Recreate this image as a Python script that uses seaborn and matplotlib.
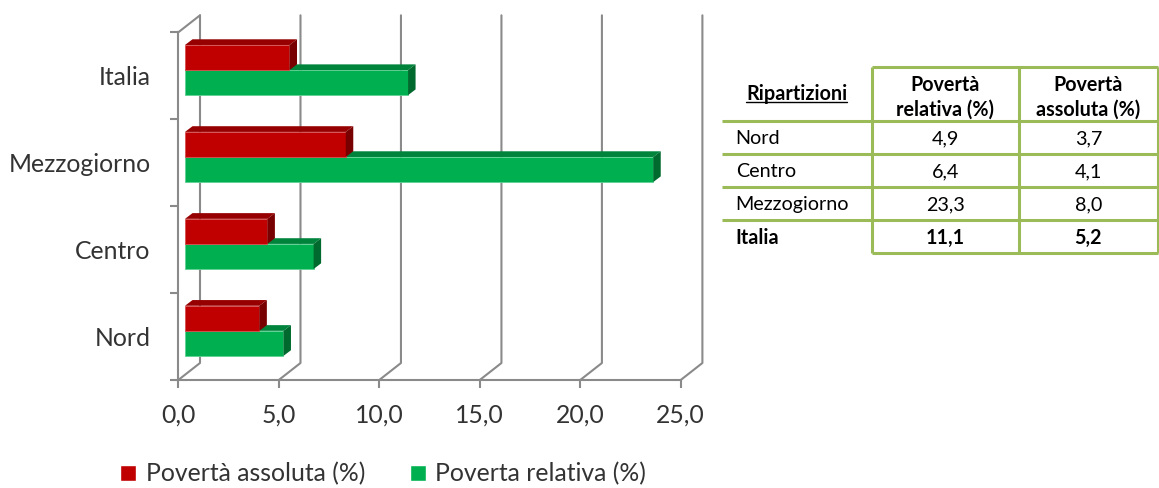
import matplotlib
matplotlib.use("Agg")
import matplotlib.pyplot as plt
import pandas as pd
import seaborn as sns
from matplotlib.lines import Line2D
from matplotlib.patches import Polygon
from matplotlib.ticker import FuncFormatter, FixedLocator
from matplotlib.transforms import IdentityTransform, ScaledTranslation

# ---- data -------------------------------------------------------------
ripartizioni = ["Nord", "Centro", "Mezzogiorno", "Italia"]
poverta_relativa = [4.9, 6.4, 23.3, 11.1]
poverta_assoluta = [3.7, 4.1, 8.0, 5.2]
serie = ["Povertà assoluta (%)", "Poverta relativa (%)"]
x_ticks = [0, 5, 10, 15, 20, 25]
intestazioni = ["Ripartizioni", "Povertà\nrelativa (%)", "Povertà\nassoluta (%)"]

# ---- look -------------------------------------------------------------
W, H, DPI = 1159, 488, 100
ROSSO, ROSSO_TOP, ROSSO_LATO = "#C00000", "#960000", "#780000"
VERDE, VERDE_TOP, VERDE_LATO = "#00B050", "#00843B", "#006A2E"
GRIGIO = "#8a8a8a"
TESTO = "#333333"
BORDO_TAB = "#9BBB59"
FS_CHART = 17.8
FS_TAB = 14.2

sns.set_theme(style="white")
plt.rcParams["font.family"] = ["Lato", "DejaVu Sans"]


def fx(x):
    return x / W


def fy(y):
    return 1 - y / H


def virgola(v, _=None):
    return f"{v:.1f}".replace(".", ",")


fig = plt.figure(figsize=(W / DPI, H / DPI), dpi=DPI)
fig.patch.set_facecolor("white")

# front plane of the 3-D box
ax = fig.add_axes([fx(178.3), fy(380), (680.7 - 178.3) / W, (380 - 32.3) / H])
ax.patch.set_alpha(0)

ordine = ripartizioni[::-1]
df = pd.DataFrame({
    "Ripartizione": ripartizioni * 2,
    "Serie": [serie[0]] * len(ripartizioni) + [serie[1]] * len(ripartizioni),
    "Valore": poverta_assoluta + poverta_relativa,
})
sns.barplot(data=df, y="Ripartizione", x="Valore", hue="Serie",
            order=ordine, hue_order=serie,
            palette={serie[0]: ROSSO, serie[1]: VERDE},
            orient="h", width=0.577, saturation=1, ax=ax)

ax.set_xlim(0, 25)
ax.set_ylim(3.5, -0.5)
ax.set_xlabel("")
ax.set_ylabel("")

# axes frame, ticks, labels
for s in ("top", "right"):
    ax.spines[s].set_visible(False)
for s in ("left", "bottom"):
    ax.spines[s].set_color(GRIGIO)
    ax.spines[s].set_linewidth(1.5)
ax.set_xticks(x_ticks)
ax.xaxis.set_major_formatter(FuncFormatter(virgola))
ax.yaxis.set_minor_locator(FixedLocator([i - 0.5 for i in range(len(ordine) + 1)]))
ax.tick_params(axis="x", which="major", bottom=True, length=5.8, width=1.5,
               color=GRIGIO, pad=11, labelsize=FS_CHART, labelcolor=TESTO)
ax.tick_params(axis="y", which="major", left=True, length=0, pad=20,
               labelsize=FS_CHART, labelcolor=TESTO)
ax.tick_params(axis="y", which="minor", left=True, length=5.8, width=1.5,
               color=GRIGIO)

# ---- 3-D depth: back wall grid, floor diagonals ------------------------
PROF = (21.7, 17.0)        # depth of the box, px
SPOST = (6.7, 5.7)         # bars sit part-way into the box, px
SPESS = (7.5, 5.7)         # bar thickness in depth, px

fig.canvas.draw()
T = ax.transData
for t in x_ticks:
    xb, yb = T.transform((t, 3.5))
    _, yt = T.transform((t, -0.5))
    ax.add_line(Line2D([xb, xb + PROF[0], xb + PROF[0]],
                       [yb, yb + PROF[1], yt + PROF[1]],
                       transform=IdentityTransform(), color=GRIGIO, lw=1.5,
                       clip_on=False, zorder=1))
x0, yt0 = T.transform((0, -0.5))
ax.add_line(Line2D([x0, x0 + PROF[0]], [yt0, yt0 + PROF[1]],
                   transform=IdentityTransform(), color=GRIGIO, lw=1.5,
                   clip_on=False, zorder=1))

# ---- 3-D bars -----------------------------------------------------------
spost = ScaledTranslation(SPOST[0] / DPI, SPOST[1] / DPI, fig.dpi_scale_trans)
facce = [(ROSSO, ROSSO_TOP, ROSSO_LATO, "#d65050", 4),
         (VERDE, VERDE_TOP, VERDE_LATO, "#5fd094", 3)]
for cont, (c_front, c_top, c_side, c_edge, z) in zip(ax.containers, facce):
    for p in cont.patches:
        (ax_, ay_), (bx_, by_) = (T.transform((p.get_x(), p.get_y())),
                                  T.transform((p.get_x() + p.get_width(),
                                               p.get_y() + p.get_height())))
        left, right = min(ax_, bx_) + SPOST[0], max(ax_, bx_) + SPOST[0]
        bot, top = min(ay_, by_) + SPOST[1], max(ay_, by_) + SPOST[1]
        p.set_transform(T + spost)
        p.set_zorder(z)
        p.set_edgecolor(c_edge)
        p.set_linewidth(0.6)
        dx, dy = SPESS
        for verts, col in (
            ([(left, top), (right, top), (right + dx, top + dy), (left + dx, top + dy)], c_top),
            ([(right, bot), (right, top), (right + dx, top + dy), (right + dx, bot + dy)], c_side),
        ):
            ax.add_patch(Polygon(verts, closed=True, transform=IdentityTransform(),
                                 facecolor=col, edgecolor="none", zorder=z,
                                 clip_on=False))

# ---- legend -------------------------------------------------------------
sns.move_legend(ax, "center", bbox_to_anchor=(fx(383), fy(474)),
                bbox_transform=fig.transFigure, ncol=2, frameon=False,
                title=None, fontsize=FS_CHART, handlelength=0.65,
                handleheight=0.65, handletextpad=0.4, columnspacing=1.8,
                labelcolor=TESTO)

# ---- table --------------------------------------------------------------
col = [721.7, 871.7, 1019.3, 1157.5]
riga = [67.3, 121.0, 154.3, 187.3, 220.0, 253.3]
lw_tab = 2.2
for y in riga:
    xs = col[1] if y in (riga[0], riga[-1]) else col[0]
    fig.add_artist(Line2D([fx(xs), fx(col[-1])], [fy(y), fy(y)],
                          color=BORDO_TAB, lw=lw_tab, solid_capstyle="butt"))
for x in col[1:]:
    fig.add_artist(Line2D([fx(x), fx(x)], [fy(riga[0]), fy(riga[-1])],
                          color=BORDO_TAB, lw=lw_tab, solid_capstyle="butt"))

centri_col = [(col[i] + col[i + 1]) / 2 for i in range(3)]
y_head = (riga[0] + riga[1]) / 2
h_rip = fig.text(fx(centri_col[0]), fy(y_head), intestazioni[0], ha="center",
                 va="center", fontsize=FS_TAB, fontweight="bold", color="black")
for i in (1, 2):
    fig.text(fx(centri_col[i]), fy(y_head + 3), intestazioni[i], ha="center",
             va="center", fontsize=FS_TAB, fontweight="bold", color="black",
             linespacing=1.3)

fig.canvas.draw()
bb = h_rip.get_window_extent(fig.canvas.get_renderer())
fig.add_artist(Line2D([bb.x0 / fig.bbox.width, bb.x1 / fig.bbox.width],
                      [(bb.y0 + 2.5) / fig.bbox.height] * 2,
                      color="black", lw=1.0))

for k, nome in enumerate(ripartizioni):
    yc = (riga[k + 1] + riga[k + 2]) / 2 + 1
    peso = "bold" if nome == "Italia" else "normal"
    fig.text(fx(col[0] + 14), fy(yc), nome, ha="left", va="center",
             fontsize=FS_TAB, fontweight=peso, color="black")
    fig.text(fx(centri_col[1]), fy(yc), virgola(poverta_relativa[k]),
             ha="center", va="center", fontsize=FS_TAB, fontweight=peso,
             color="black")
    fig.text(fx(centri_col[2]), fy(yc), virgola(poverta_assoluta[k]),
             ha="center", va="center", fontsize=FS_TAB, fontweight=peso,
             color="black")

fig.savefig("out.png", dpi=DPI)
